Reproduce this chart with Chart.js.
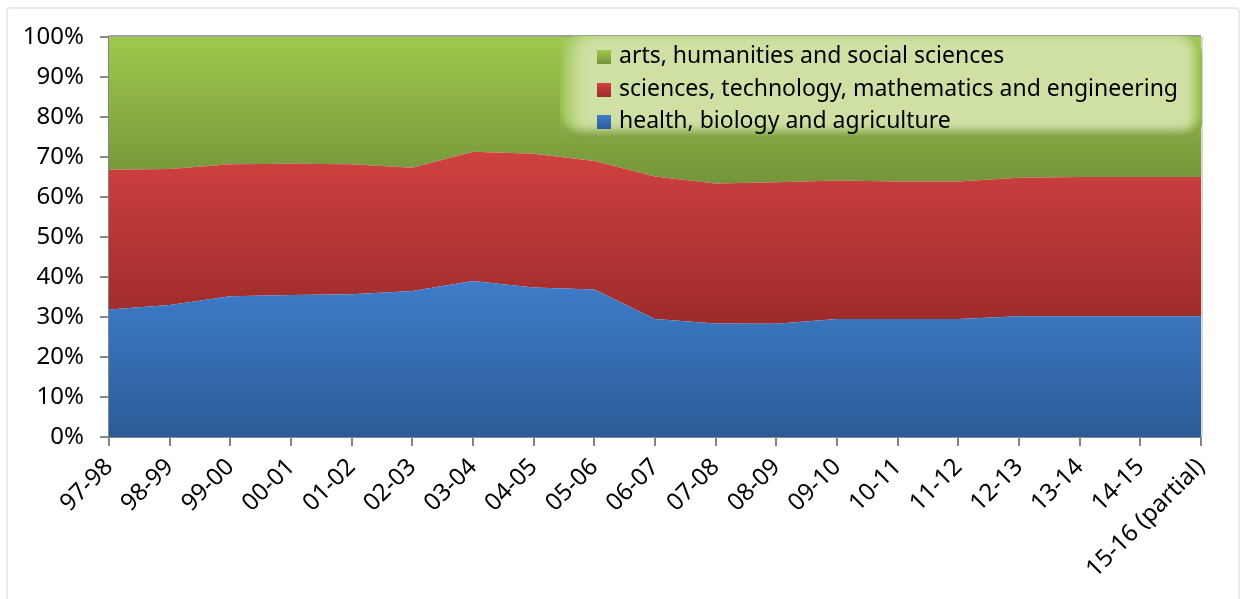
<!DOCTYPE html>
<html>
<head>
<meta charset="utf-8">
<script src="https://cdn.jsdelivr.net/npm/chart.js@4"></script>
<style>
  body { margin: 0; background: #fff; }
  #wrap { position: relative; width: 1244px; height: 599px; overflow: hidden; }
  #frame { position: absolute; left: 6px; top: 7px; width: 1230px; height: 620px;
    border: 2px solid #ecebe3; border-radius: 4px; }
  #chart { position: absolute; left: 0; top: 0; }
  #legend { position: absolute; left: 560px; top: 36px; width: 642px; height: 104px;
    border-radius: 18px; background: #cfe0a5;
    box-shadow: inset 0 -11px 10px -2px #7e9f3f, inset 18px 0 16px -6px #a2c955, inset -12px 0 10px -4px #9dc64f;
    font-family: 'Noto Sans', sans-serif; font-size: 23px; color: #000; }
  .item { position: absolute; left: 37px; height: 30px; line-height: 30px; white-space: nowrap; }
  .item span { display: inline-block; width: 14px; height: 14px; margin-right: 8px; vertical-align: -1px; }
</style>
</head>
<body>
<div id="wrap">
  <div id="frame"></div>
  <canvas id="chart" width="1244" height="599"></canvas>
  <div id="legend"></div>
</div>
<script>
const years = ['97-98', '98-99', '99-00', '00-01', '01-02', '02-03', '03-04', '04-05', '05-06', '06-07',
  '07-08', '08-09', '09-10', '10-11', '11-12', '12-13', '13-14', '14-15', '15-16 (partial)'];

// shares in percent
const health = [31.9, 33.0, 35.2, 35.5, 35.7, 36.5, 39.0, 37.4, 36.9, 29.5,
  28.4, 28.3, 29.5, 29.5, 29.5, 30.2, 30.2, 30.2, 30.2];
const sciences = [34.9, 34.0, 33.0, 32.8, 32.5, 30.8, 32.3, 33.4, 32.1, 35.6,
  35.0, 35.4, 34.6, 34.4, 34.4, 34.6, 34.8, 34.8, 34.8];
const arts = [33.2, 33.0, 31.8, 31.7, 31.8, 32.7, 28.7, 29.2, 31.0, 34.9,
  36.6, 36.3, 35.9, 36.1, 36.1, 35.2, 35.0, 35.0, 35.0];

const yTicks = [0, 10, 20, 30, 40, 50, 60, 70, 80, 90, 100];

function grad(top, bottom, hi, lo) {
  return (ctx) => {
    const chart = ctx.chart;
    if (!chart.chartArea) return top;
    const y = chart.scales.y;
    const g = chart.ctx.createLinearGradient(0, y.getPixelForValue(hi), 0, y.getPixelForValue(lo));
    g.addColorStop(0, top);
    g.addColorStop(1, bottom);
    return g;
  };
}

const series = [
  { label: 'health, biology and agriculture', data: health, top: '#3e7dcb', bottom: '#2c5c98', hi: 40, lo: 0 },
  { label: 'sciences, technology, mathematics and engineering', data: sciences, top: '#d14141', bottom: '#9b2b2a', hi: 72, lo: 28 },
  { label: 'arts, humanities and social sciences', data: arts, top: '#9dc94c', bottom: '#74943a', hi: 100, lo: 63 },
];

const plotFrame = {
  id: 'plotFrame',
  afterDatasetsDraw(chart) {
    const { ctx, chartArea: a } = chart;
    ctx.save();
    ctx.strokeStyle = '#a0a0a0';
    ctx.lineWidth = 2;
    ctx.beginPath();
    ctx.moveTo(a.left, a.top - 1);
    ctx.lineTo(a.right, a.top - 1);
    ctx.stroke();
    ctx.strokeStyle = '#d8d8d8';
    ctx.beginPath();
    ctx.moveTo(a.right + 1, a.top);
    ctx.lineTo(a.right + 1, a.bottom);
    ctx.stroke();
    ctx.restore();
  }
};

const chart = new Chart(document.getElementById('chart'), {
  type: 'line',
  data: {
    labels: years,
    datasets: series.map((s, i) => ({
      label: s.label,
      data: s.data,
      fill: i === 0 ? 'origin' : '-1',
      backgroundColor: grad(s.top, s.bottom, s.hi, s.lo),
      borderWidth: 0,
      pointRadius: 0,
      tension: 0,
    })),
  },
  options: {
    responsive: false,
    animation: false,
    layout: { padding: { top: 37, right: 43, left: 0, bottom: 0 } },
    plugins: { legend: { display: false }, tooltip: { enabled: false } },
    scales: {
      x: {
        offset: false,
        grid: { drawOnChartArea: false, tickLength: 9, color: '#868686', lineWidth: 2 },
        border: { color: '#868686', width: 2 },
        ticks: {
          autoSkip: false, minRotation: 45, maxRotation: 45, padding: 7,
          color: '#000', font: { family: 'Noto Sans', size: 24 },
        },
        afterFit: (scale) => { scale.height = 162; },
      },
      y: {
        stacked: true,
        min: 0,
        max: 100,
        afterBuildTicks: (scale) => { scale.ticks = yTicks.map(v => ({ value: v })); },
        grid: { drawOnChartArea: false, tickLength: 9, color: '#868686', lineWidth: 2 },
        border: { color: '#868686', width: 2 },
        ticks: {
          padding: 16, color: '#000', font: { family: 'Noto Sans', size: 24 },
          callback: (v) => v + '%',
        },
        afterFit: (scale) => { scale.width = 109; },
      },
    },
  },
  plugins: [plotFrame],
});

// legend box, top series first
const legend = document.getElementById('legend');
[...series].reverse().forEach((s, i) => {
  const d = document.createElement('div');
  d.className = 'item';
  d.style.top = (3 + i * 32.5) + 'px';
  const sw = document.createElement('span');
  sw.style.background = `linear-gradient(${s.top}, ${s.bottom})`;
  d.appendChild(sw);
  d.appendChild(document.createTextNode(s.label));
  legend.appendChild(d);
});
</script>
</body>
</html>
